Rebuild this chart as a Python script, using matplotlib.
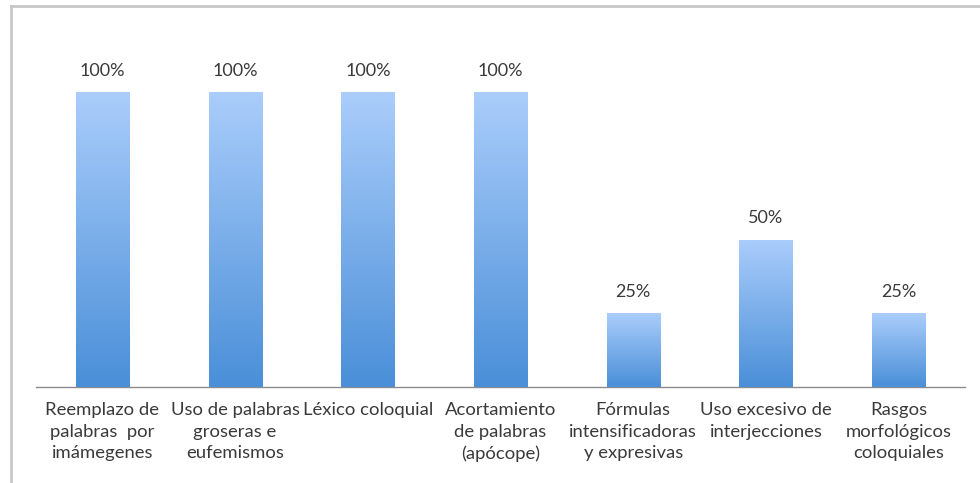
import numpy as np
import matplotlib.pyplot as plt
from matplotlib.colors import LinearSegmentedColormap
from matplotlib.lines import Line2D

categories = [
    "Reemplazo de\npalabras  por\nimámegenes",
    "Uso de palabras\ngroseras e\neufemismos",
    "Léxico coloquial",
    "Acortamiento\nde palabras\n(apócope)",
    "Fórmulas\nintensificadoras\ny expresivas",
    "Uso excesivo de\ninterjecciones",
    "Rasgos\nmorfológicos\ncoloquiales",
]
values = [1.00, 1.00, 1.00, 1.00, 0.25, 0.50, 0.25]

plt.rcParams['font.family'] = ['Lato', 'DejaVu Sans']
text_color = '#3a3a3a'

fig = plt.figure(figsize=(9.8, 4.83), dpi=100)
ax = fig.add_axes([36 / 980, 1 - 387 / 483, 929 / 980, 342 / 483])

x = np.arange(len(categories))
bars = ax.bar(x, values, width=0.4, color='#7aaeea', edgecolor='none', zorder=2)

# vertical gradient inside each bar (light top, darker bottom)
cmap = LinearSegmentedColormap.from_list('bluegrad', ['#4a8fd8', '#aacdfb'])
grad = np.linspace(0, 1, 256).reshape(-1, 1)
for b in bars:
    x0, w, h = b.get_x(), b.get_width(), b.get_height()
    im = ax.imshow(grad, cmap=cmap, origin='lower', aspect='auto',
                   extent=[x0, x0 + w, 0, h], zorder=3)
    im.set_clip_path(b)
    ax.text(x0 + w / 2, h + 0.045, f"{int(round(h * 100))}%", ha='center',
            va='bottom', fontsize=13, color=text_color)

ax.set_xlim(-0.5, len(categories) - 0.5)
ax.set_ylim(0, 1.16)
ax.set_xticks(x)
ax.set_xticklabels(categories, fontsize=13.3, color=text_color, linespacing=1.42)
ax.tick_params(axis='x', length=0, pad=11)
ax.set_yticks([])
for s in ['top', 'right', 'left']:
    ax.spines[s].set_visible(False)
ax.spines['bottom'].set_color('#8c8c8c')
ax.spines['bottom'].set_linewidth(1)

# outer frame (cropped, only top and left visible)
fig.add_artist(Line2D([11 / 980, 1], [1 - 6 / 483, 1 - 6 / 483],
                      transform=fig.transFigure, color='#c8c8c8', lw=2))
fig.add_artist(Line2D([11 / 980, 11 / 980], [0, 1 - 6 / 483],
                      transform=fig.transFigure, color='#c8c8c8', lw=2))

fig.savefig('out.png', dpi=100)
